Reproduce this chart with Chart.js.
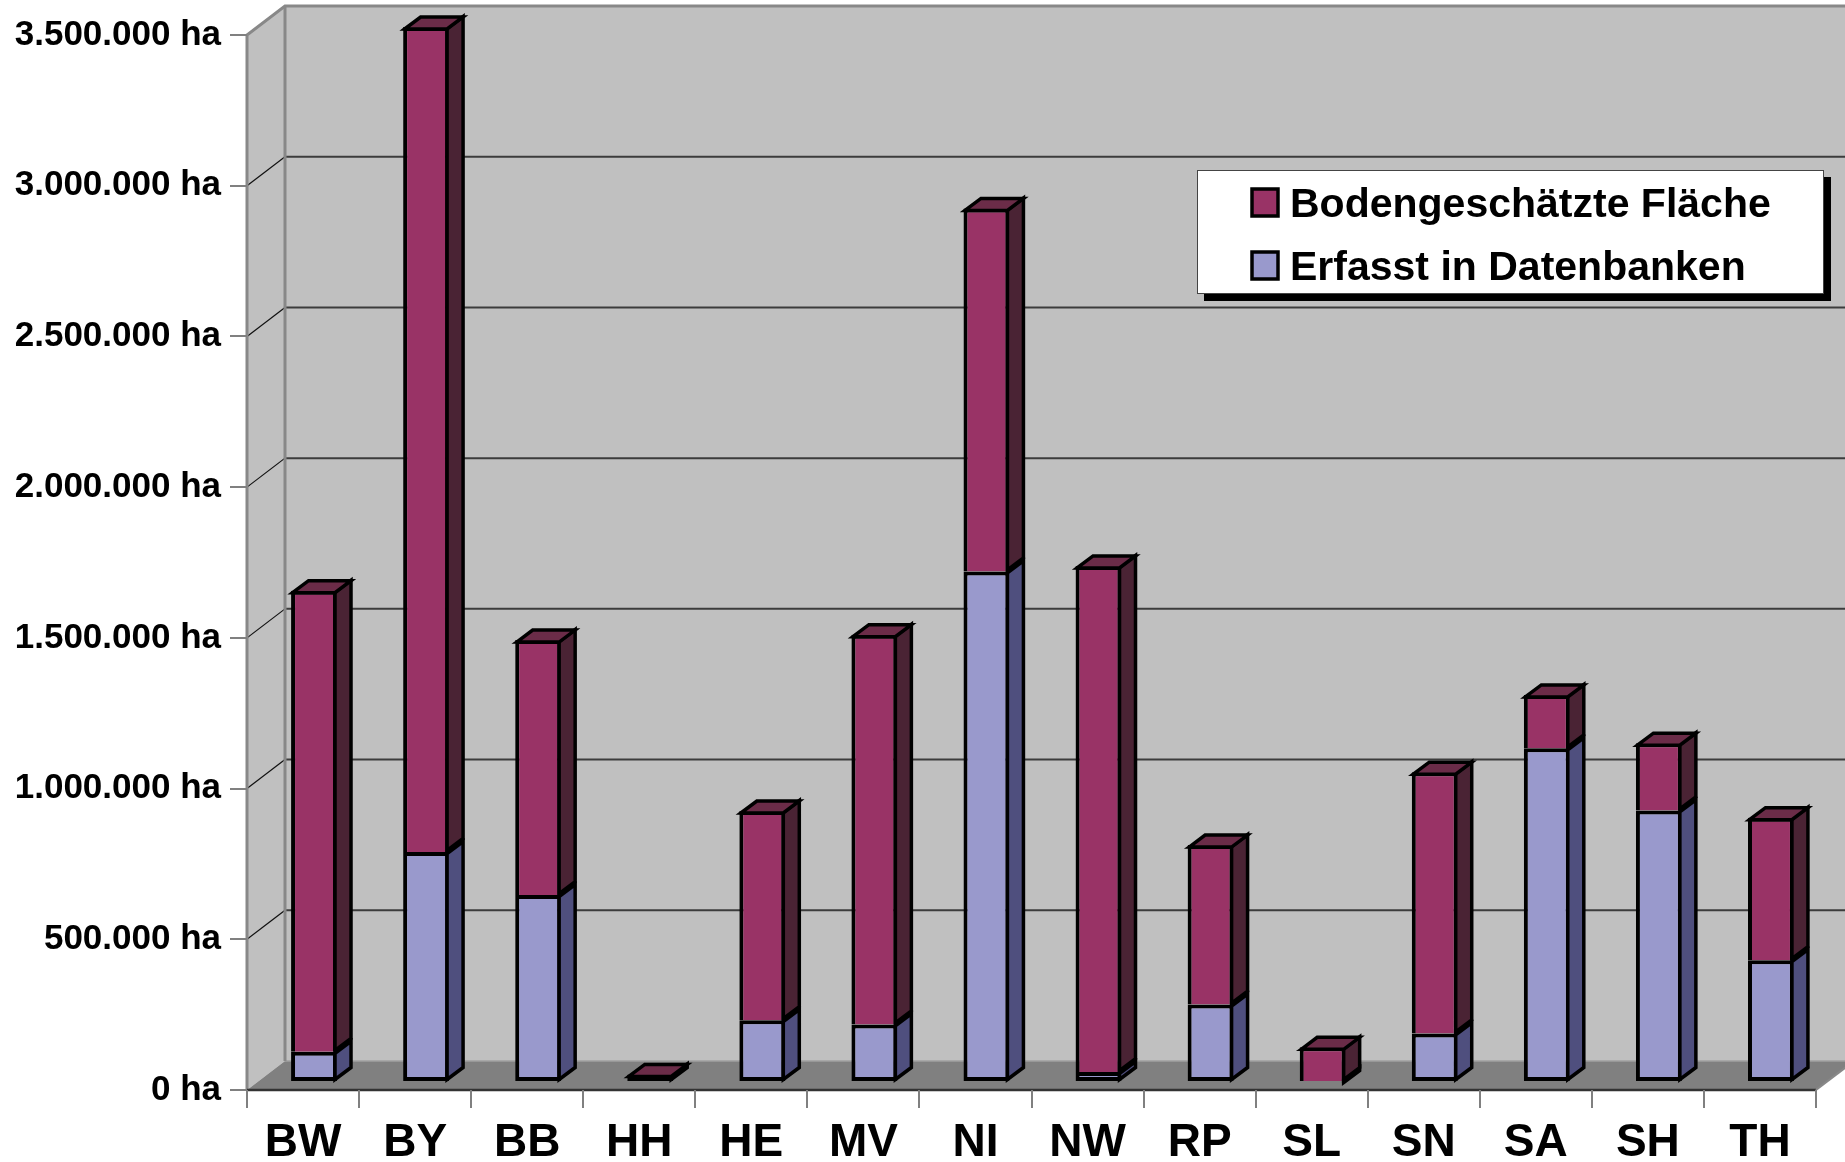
<!DOCTYPE html>
<html lang="de">
<head>
<meta charset="UTF-8">
<title>Bodengeschätzte Fläche</title>
<script src="https://cdn.jsdelivr.net/npm/chart.js"></script>
<style>
  html, body { margin: 0; padding: 0; background: #fff; }
  canvas { display: block; }
</style>
</head>
<body>
<canvas id="chart" width="1845" height="1162"></canvas>
<script>
// Bundesländer
const laender = ['BW', 'BY', 'BB', 'HH', 'HE', 'MV', 'NI', 'NW', 'RP', 'SL', 'SN', 'SA', 'SH', 'TH'];
// in Datenbanken erfasst (ha) - unteres Segment
const erfasst = [100000, 763000, 620000, 15000, 205000, 191000, 1694000, 33000, 257000, 3000, 161000, 1107000, 901000, 404000];
// restliche bodengeschätzte Fläche (ha) - oberes Segment
const bodengeschaetzt = [1530000, 2737000, 846000, 10000, 694000, 1293000, 1204000, 1679000, 529000, 112000, 867000, 177000, 223000, 473000];
const yMax = 3500000;
const yStep = 500000;
const legendLabels = ['Bodengeschätzte Fläche', 'Erfasst in Datenbanken'];

const FONT = "'Liberation Sans', Arial, sans-serif";

// 3D-Versatz
const DX = 38, DY = 29;      // Raumtiefe
const BX = 11, BY = 8;       // Lage der Säulen-Vorderseite
const SX = 16, SY = 12;      // Säulentiefe

function fmt(v) {
    return String(v).replace(/\B(?=(\d{3})+(?!\d))/g, '.') + ' ha';
}

function poly(ctx, pts, fill, stroke, lw) {
    ctx.beginPath();
    ctx.moveTo(pts[0][0], pts[0][1]);
    for (let i = 1; i < pts.length; i++) ctx.lineTo(pts[i][0], pts[i][1]);
    ctx.closePath();
    if (fill) { ctx.fillStyle = fill; ctx.fill(); }
    if (stroke) { ctx.strokeStyle = stroke; ctx.lineWidth = lw; ctx.stroke(); }
}

function line(ctx, pts, color, lw) {
    ctx.beginPath();
    ctx.moveTo(pts[0][0], pts[0][1]);
    for (let i = 1; i < pts.length; i++) ctx.lineTo(pts[i][0], pts[i][1]);
    ctx.strokeStyle = color;
    ctx.lineWidth = lw;
    ctx.stroke();
}

// Wände, Boden und Gitterlinien
const roomPlugin = {
    id: 'room',
    beforeDraw(chart) {
        const { ctx, chartArea: a, scales: { y } } = chart;
        const W = chart.width;
        ctx.save();
        ctx.fillStyle = '#fff';
        ctx.fillRect(0, 0, W, chart.height);
        ctx.lineJoin = 'miter';

        // Rückwand
        ctx.fillStyle = '#c0c0c0';
        ctx.fillRect(a.left + DX, a.top - DY, W - a.left - DX, a.bottom - a.top);
        // linke Wand
        poly(ctx, [[a.left, a.top], [a.left + DX, a.top - DY], [a.left + DX, a.bottom - DY], [a.left, a.bottom]], '#c0c0c0');
        // Boden
        poly(ctx, [[a.left, a.bottom], [a.right, a.bottom], [a.right + DX, a.bottom - DY], [a.left + DX, a.bottom - DY]], '#808080');

        // Gitterlinien
        y.ticks.forEach(t => {
            if (t.value === 0) return;
            const py = y.getPixelForValue(t.value);
            line(ctx, [[a.left, py], [a.left + DX, py - DY]], '#111', 1.2);
            line(ctx, [[a.left + DX, py - DY], [W, py - DY]], '#3c3c3c', 2);
        });

        // Kanten
        line(ctx, [[a.left + DX, a.bottom - DY], [a.right + DX, a.bottom - DY]], '#a0a0a0', 1.5);
        line(ctx, [[a.left, a.bottom], [a.left, a.top], [a.left + DX, a.top - DY], [W, a.top - DY]], '#888', 3);
        line(ctx, [[a.left + DX, a.top - DY], [a.left + DX, a.bottom - DY]], '#888', 3);
        line(ctx, [[a.left, a.bottom], [a.right, a.bottom]], '#333', 2.5);
        line(ctx, [[a.right, a.bottom], [a.right + DX, a.bottom - DY]], '#888', 2);
        ctx.restore();
    },
    beforeDatasetsDraw(chart) {
        chart.ctx.save();
        chart.ctx.translate(BX, -BY);
    },
    afterDatasetsDraw(chart) {
        const ctx = chart.ctx;
        const sets = chart.data.datasets;
        ctx.lineJoin = 'miter';
        sets.forEach((ds, di) => {
            const meta = chart.getDatasetMeta(di);
            meta.data.forEach(bar => {
                const { x, y, base, width } = bar.getProps(['x', 'y', 'base', 'width'], true);
                const l = x - width / 2 + 1.5, r = x + width / 2 - 2;
                poly(ctx, [[r, y + 1.5], [r + SX, y + 1.5 - SY], [r + SX, base - 1.5 - SY], [r, base - 1.5]], ds.sideColor, '#000', 3.5);
                if (di === sets.length - 1) {
                    poly(ctx, [[l, y + 2], [l + SX, y + 2 - SY], [r + SX, y + 2 - SY], [r, y + 2]], ds.topColor, '#000', 3.5);
                }
            });
        });
        ctx.restore();
    },
    afterDraw(chart) {
        const ctx = chart.ctx;
        const sets = chart.data.datasets;
        const bx = 1197, by = 170, bw = 627, bh = 124;
        ctx.save();
        ctx.fillStyle = '#000';
        ctx.fillRect(bx + 7, by + 7, bw, bh);
        ctx.fillStyle = '#fff';
        ctx.fillRect(bx, by, bw, bh);
        ctx.strokeStyle = '#444';
        ctx.lineWidth = 1;
        ctx.strokeRect(bx + 0.5, by + 0.5, bw - 1, bh - 1);
        const items = [
            { text: legendLabels[0], color: sets[1].backgroundColor },
            { text: legendLabels[1], color: sets[0].backgroundColor }
        ];
        ctx.font = 'bold 41px ' + FONT;
        ctx.textBaseline = 'alphabetic';
        ctx.textAlign = 'left';
        items.forEach((it, i) => {
            const top = by + 19 + i * 63;
            ctx.fillStyle = it.color;
            ctx.fillRect(bx + 55, top, 26, 27);
            ctx.strokeStyle = '#000';
            ctx.lineWidth = 3.5;
            ctx.strokeRect(bx + 55, top, 26, 27);
            ctx.fillStyle = '#000';
            ctx.fillText(it.text, bx + 93, top + 28);
        });
        ctx.restore();
    }
};

Chart.defaults.font.family = FONT;

new Chart(document.getElementById('chart'), {
    type: 'bar',
    data: {
        labels: laender,
        datasets: [{
            label: legendLabels[1],
            data: erfasst,
            backgroundColor: '#9999cc',
            sideColor: '#4f4f7e',
            topColor: '#6f6fa0',
            borderColor: '#000',
            borderWidth: { top: 4, left: 4, right: 4, bottom: 4 },
            borderSkipped: false,
            clip: false
        }, {
            label: legendLabels[0],
            data: bodengeschaetzt,
            backgroundColor: '#993366',
            sideColor: '#4a2334',
            topColor: '#6b2c48',
            borderColor: '#000',
            borderWidth: { top: 4, left: 4, right: 4, bottom: 0 },
            borderSkipped: false,
            clip: false
        }]
    },
    options: {
        responsive: false,
        devicePixelRatio: 1,
        animation: false,
        events: [],
        layout: { padding: { top: 35, right: 29, left: 0, bottom: 0 } },
        datasets: { bar: { categoryPercentage: 1, barPercentage: 0.41 } },
        plugins: {
            legend: { display: false },
            tooltip: { enabled: false }
        },
        scales: {
            x: {
                stacked: true,
                ticks: { color: '#000', font: { size: 46, weight: 'bold' }, padding: 8 },
                grid: { offset: true, drawOnChartArea: false, tickLength: 18, color: '#808080', lineWidth: 2 },
                border: { display: false },
                afterFit(s) { s.height = 72; }
            },
            y: {
                stacked: true,
                min: 0,
                max: yMax,
                ticks: {
                    stepSize: yStep,
                    color: '#000',
                    font: { size: 35, weight: 'bold' },
                    padding: 9,
                    callback: v => fmt(v)
                },
                grid: { drawOnChartArea: false, tickLength: 17, color: '#808080', lineWidth: 2 },
                border: { display: false },
                afterFit(s) { s.width = 247; }
            }
        }
    },
    plugins: [roomPlugin]
});
</script>
</body>
</html>
